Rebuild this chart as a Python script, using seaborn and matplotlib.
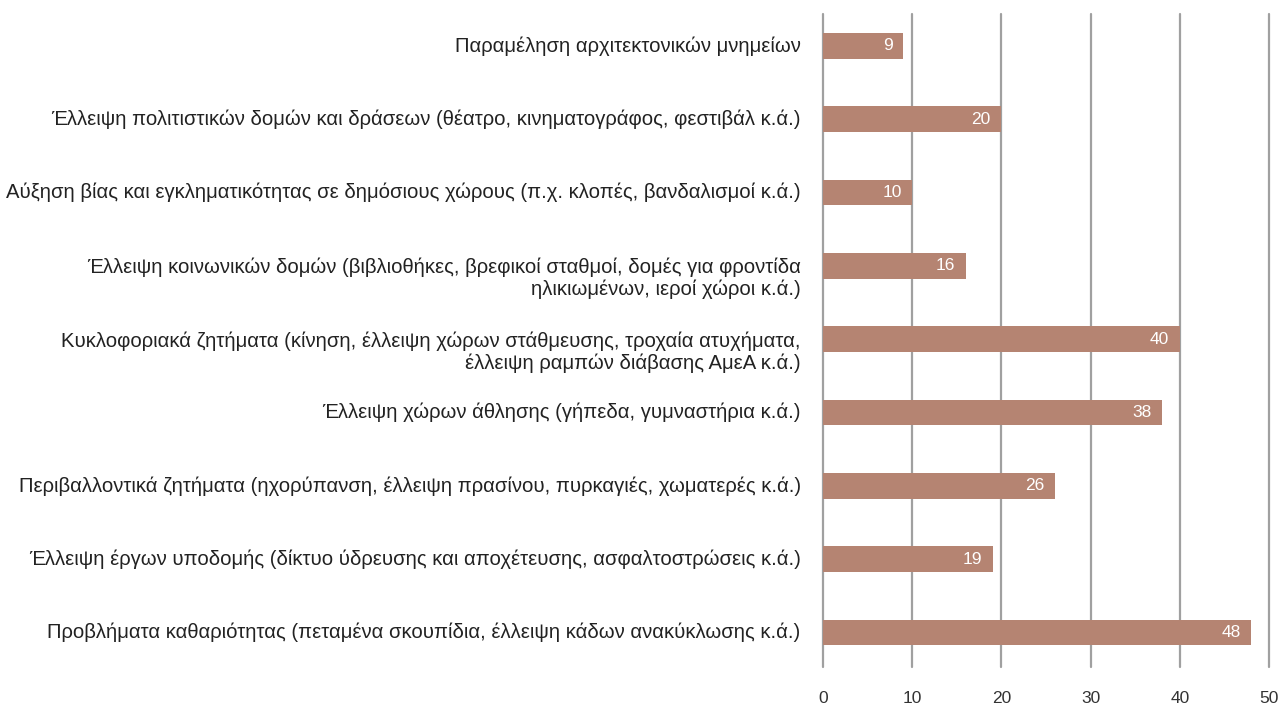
import matplotlib
matplotlib.use("Agg")
import matplotlib.pyplot as plt
import matplotlib.transforms as mtransforms
import pandas as pd
import seaborn as sns

# Data (top to bottom as shown in the chart)
categories = [
    "Παραμέληση αρχιτεκτονικών μνημείων",
    "Έλλειψη πολιτιστικών δομών και δράσεων (θέατρο, κινηματογράφος, φεστιβάλ κ.ά.)",
    "Αύξηση βίας και εγκληματικότητας σε δημόσιους χώρους (π.χ. κλοπές, βανδαλισμοί κ.ά.)",
    "Έλλειψη κοινωνικών δομών (βιβλιοθήκες, βρεφικοί σταθμοί, δομές για φροντίδα\nηλικιωμένων, ιεροί χώροι κ.ά.)",
    "Κυκλοφοριακά ζητήματα (κίνηση, έλλειψη χώρων στάθμευσης, τροχαία ατυχήματα,\nέλλειψη ραμπών διάβασης ΑμεΑ κ.ά.)",
    "Έλλειψη χώρων άθλησης (γήπεδα, γυμναστήρια κ.ά.)",
    "Περιβαλλοντικά ζητήματα (ηχορύπανση, έλλειψη πρασίνου, πυρκαγιές, χωματερές κ.ά.)",
    "Έλλειψη έργων υποδομής (δίκτυο ύδρευσης και αποχέτευσης, ασφαλτοστρώσεις κ.ά.)",
    "Προβλήματα καθαριότητας (πεταμένα σκουπίδια, έλλειψη κάδων ανακύκλωσης κ.ά.)",
]
values = [9, 20, 10, 16, 40, 38, 26, 19, 48]
x_ticks = [0, 10, 20, 30, 40, 50]

df = pd.DataFrame({"category": categories, "value": values})

sns.set_theme(style="white")
plt.rcParams['font.family'] = ['Liberation Sans', 'DejaVu Sans']

fig = plt.figure(figsize=(12.82, 7.04), dpi=100)
ax = fig.add_axes([0.642, 0.0526, 0.348, 0.927])

sns.barplot(data=df, y="category", x="value", orient="h", color="#b58472",
            saturation=1, width=0.35, linewidth=0, edgecolor="none", ax=ax)

ax.set_xlim(0, 50)
ax.set_ylim(8.47, -0.43)
ax.set_xticks(x_ticks)
ax.set_xlabel("")
ax.set_ylabel("")
for s in ax.spines.values():
    s.set_visible(False)
ax.grid(False)
ax.xaxis.grid(True, color="#a0a0a0", linewidth=1.6)
ax.set_axisbelow(True)
for gl in ax.get_xgridlines():
    gl.set_clip_on(False)
ax.tick_params(axis="x", length=0, pad=17, labelsize=12.5, labelcolor="#333333")
ax.tick_params(axis="y", length=0, labelleft=False)

# category labels: first line level with the bar, wrapped line below it
trans = ax.get_yaxis_transform()
for i, cat in enumerate(categories):
    if "\n" in cat:
        off = mtransforms.ScaledTranslation(0, 8 / 100, fig.dpi_scale_trans)
        ax.text(-0.05, i, cat, transform=trans + off, ha="right", va="top",
                fontsize=14.55, color="#222222", linespacing=1.15)
    else:
        ax.text(-0.05, i, cat, transform=trans, ha="right", va="center",
                fontsize=14.55, color="#222222")

# Value labels inside bar ends
for i, v in enumerate(values):
    ax.text(v - 1.2, i, str(v), ha="right", va="center", color="white", fontsize=12.5)

fig.savefig("out.png", dpi=100)
